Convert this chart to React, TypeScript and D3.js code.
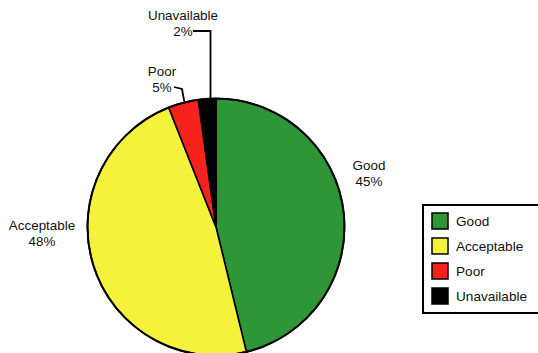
import React from "react";
import * as d3 from "d3";

const categories = ["Good", "Acceptable", "Poor", "Unavailable"];
const values = [46.2, 47.8, 3.8, 2.2];
const pctLabels = ["45%", "48%", "5%", "2%"];
const colors = ["#2e9637", "#f5f23c", "#f6221b", "#000000"];

const W = 538;
const H = 353;
const cx = 216;
const cy = 227;
const R = 128.5;
const FONT = "'Liberation Sans', Arial, sans-serif";

export default function App() {
  const pie = d3
    .pie<number>()
    .sort(null)
    .value((d) => d)
    .startAngle(0)
    .endAngle(2 * Math.PI);
  const arcs = pie(values);
  const arc = d3.arc<d3.PieArcDatum<number>>().innerRadius(0).outerRadius(R);

  const labelPos: [number, number][] = [
    [369, 170],
    [42, 230],
    [162, 76],
    [183, 20],
  ];

  const polar = (ang: number, r: number): [number, number] => [
    cx + r * Math.sin(ang),
    cy - r * Math.cos(ang),
  ];
  const poorA = arcs[2];
  const unA = arcs[3];
  const poorEdge = polar((poorA.startAngle + poorA.endAngle) / 2 + 0.01, R + 1);
  const unEdge = polar((unA.startAngle + unA.endAngle) / 2 + 0.02, R - 10);

  const line = d3.line();

  const legendY = [221, 246, 271, 296];

  return (
    <svg
      width={W}
      height={H}
      style={{ position: "absolute", left: 0, top: 0, background: "#fff" }}
      fontFamily={FONT}
    >
      <g>
        {arcs.map((a, i) => (
          <path
            key={i}
            d={arc(a) || ""}
            transform={`translate(${cx},${cy})`}
            fill={colors[i]}
            stroke="#000"
            strokeWidth={1.6}
            strokeLinejoin="round"
          />
        ))}
        <circle cx={cx} cy={cy} r={R} fill="none" stroke="#000" strokeWidth={2} />
      </g>

      <path
        d={
          line([
            [174, 87],
            [182, 89],
            [poorEdge[0], poorEdge[1]],
          ]) || ""
        }
        fill="none"
        stroke="#000"
        strokeWidth={1.8}
      />
      <path
        d={
          line([
            [193, 31],
            [210.5, 31],
            [210.5, unEdge[1]],
          ]) || ""
        }
        fill="none"
        stroke="#000"
        strokeWidth={1.8}
      />

      {categories.map((c, i) => (
        <text
          key={c}
          x={labelPos[i][0]}
          y={labelPos[i][1]}
          textAnchor="middle"
          fontSize={13.4}
          fill="#111"
        >
          <tspan x={labelPos[i][0]}>{c}</tspan>
          <tspan x={labelPos[i][0]} dy={16}>
            {pctLabels[i]}
          </tspan>
        </text>
      ))}

      <rect x={423} y={205} width={125} height={108} fill="#fff" stroke="#000" strokeWidth={2} />
      {categories.map((c, i) => (
        <g key={c}>
          <rect
            x={432}
            y={legendY[i] - 8}
            width={16}
            height={16}
            fill={colors[i]}
            stroke="#000"
            strokeWidth={1.5}
          />
          <text x={456} y={legendY[i]} dy="0.35em" fontSize={13.6} fill="#111">
            {c}
          </text>
        </g>
      ))}
    </svg>
  );
}
